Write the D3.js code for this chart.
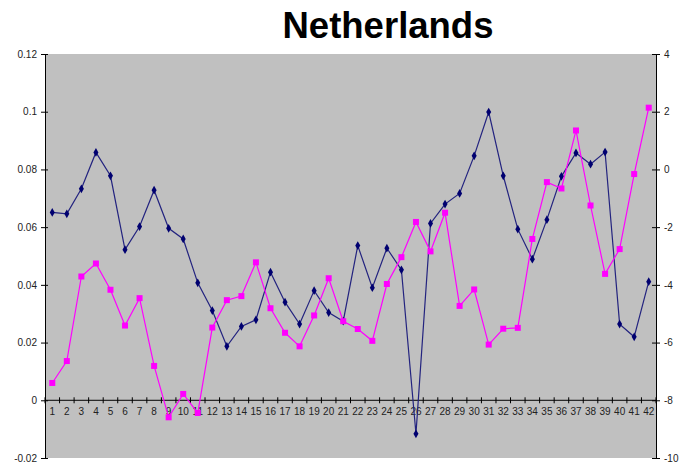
<!DOCTYPE html>
<html>
<head>
<meta charset="utf-8">
<script src="https://cdn.jsdelivr.net/npm/d3@7"></script>
<style>
  html, body { margin: 0; padding: 0; background: #fff; }
  svg { display: block; font-family: "Liberation Sans", Arial, sans-serif; }
</style>
</head>
<body>
<svg id="chart" width="693" height="463"></svg>
<script>
const title = "Netherlands";
const categories = d3.range(1, 43).map(String);
const seriesLeft = [0.0651, 0.0646, 0.0733, 0.0859, 0.0778, 0.0522, 0.0602, 0.0728, 0.0596, 0.0559,
  0.0407, 0.0311, 0.0187, 0.0256, 0.0279, 0.0444, 0.0340, 0.0264, 0.0380, 0.0304,
  0.0274, 0.0536, 0.0390, 0.0527, 0.0452, -0.0116, 0.0613, 0.0680, 0.0717, 0.0847,
  0.0999, 0.0778, 0.0593, 0.0489, 0.0626, 0.0776, 0.0857, 0.0818, 0.0860, 0.0264,
  0.0220, 0.0411];
const seriesRight = [-7.40, -6.64, -3.71, -3.26, -4.17, -5.41, -4.46, -6.81, -8.59, -7.78,
  -8.44, -5.48, -4.53, -4.39, -3.22, -4.81, -5.66, -6.13, -5.06, -3.77,
  -5.26, -5.53, -5.94, -3.97, -3.04, -1.82, -2.84, -1.50, -4.73, -4.16,
  -6.07, -5.52, -5.49, -2.41, -0.44, -0.66, 1.35, -1.25, -3.62, -2.76,
  -0.16, 2.14];
const leftTicks = [-0.02, 0, 0.02, 0.04, 0.06, 0.08, 0.1, 0.12];
const rightTicks = [-10, -8, -6, -4, -2, 0, 2, 4];

const svg = d3.select("#chart");
const L = 45, R = 656, T = 54, B = 458;

const x = d3.scaleBand().domain(categories).range([L, R]);
const yL = d3.scaleLinear().domain([-0.02, 0.12]).range([B, T]);
const yR = d3.scaleLinear().domain([-10, 4]).range([B, T]);

// plot area
svg.append("rect").attr("x", L).attr("y", T).attr("width", R - L).attr("height", B - T)
  .attr("fill", "#c0c0c0");

// title
svg.append("text").attr("x", 388).attr("y", 38).attr("text-anchor", "middle")
  .attr("font-size", 36.5).attr("font-weight", "bold").attr("fill", "#000").text(title);

const fmtL = d => (d === 0 ? "0" : String(+d.toFixed(2)));

// left axis
const gL = svg.append("g").attr("transform", `translate(${L},0)`)
  .call(d3.axisLeft(yL).tickValues(leftTicks).tickFormat(fmtL).tickSize(4).tickSizeOuter(0).tickPadding(4));
gL.selectAll("line").attr("x2", -4).attr("x1", 3);

// right axis
const gR = svg.append("g").attr("transform", `translate(${R},0)`)
  .call(d3.axisRight(yR).tickValues(rightTicks).tickFormat(d => String(d)).tickSize(4).tickSizeOuter(0).tickPadding(4));
gR.selectAll("line").attr("x1", -4).attr("x2", 4);

// x axis at zero
const gX = svg.append("g").attr("transform", `translate(0,${yL(0)})`)
  .call(d3.axisBottom(x).tickSize(0).tickSizeOuter(0).tickPadding(8));
gX.select(".domain").attr("d", `M${L},0H${R}`);
const bounds = d3.range(0, categories.length + 1).map(i => L + i * x.step());
gX.selectAll(".xt").data(bounds).join("line").attr("class", "xt")
  .attr("x1", d => d).attr("x2", d => d).attr("y1", -3).attr("y2", 3).attr("stroke", "#000");

[gL, gR, gX].forEach(g => {
  g.selectAll(".domain").attr("stroke", "#000").attr("stroke-width", 1);
  g.selectAll("line").attr("stroke", "#000");
  g.selectAll("text").attr("font-size", 10).attr("fill", "#222")
    .attr("font-family", "\"Liberation Sans\", Arial, sans-serif");
});
gX.selectAll("text").attr("font-size", 10).attr("textLength", null);

const cx = (d, i) => x(categories[i]) + x.bandwidth() / 2;

// blue series
svg.append("path").datum(seriesLeft)
  .attr("d", d3.line().x(cx).y(d => yL(d)))
  .attr("fill", "none").attr("stroke", "#23237f").attr("stroke-width", 1.2);
svg.append("g").selectAll("path").data(seriesLeft).join("path")
  .attr("transform", (d, i) => `translate(${cx(d, i)},${yL(d)})`)
  .attr("d", d3.symbol().type(d3.symbolDiamond).size(22))
  .attr("fill", "#000070");

// pink series
svg.append("path").datum(seriesRight)
  .attr("d", d3.line().x(cx).y(d => yR(d)))
  .attr("fill", "none").attr("stroke", "#ff00ff").attr("stroke-width", 1.2);
svg.append("g").selectAll("rect").data(seriesRight).join("rect")
  .attr("x", (d, i) => cx(d, i) - 3).attr("y", d => yR(d) - 3)
  .attr("width", 6).attr("height", 6).attr("fill", "#ff00ff");
</script>
</body>
</html>
